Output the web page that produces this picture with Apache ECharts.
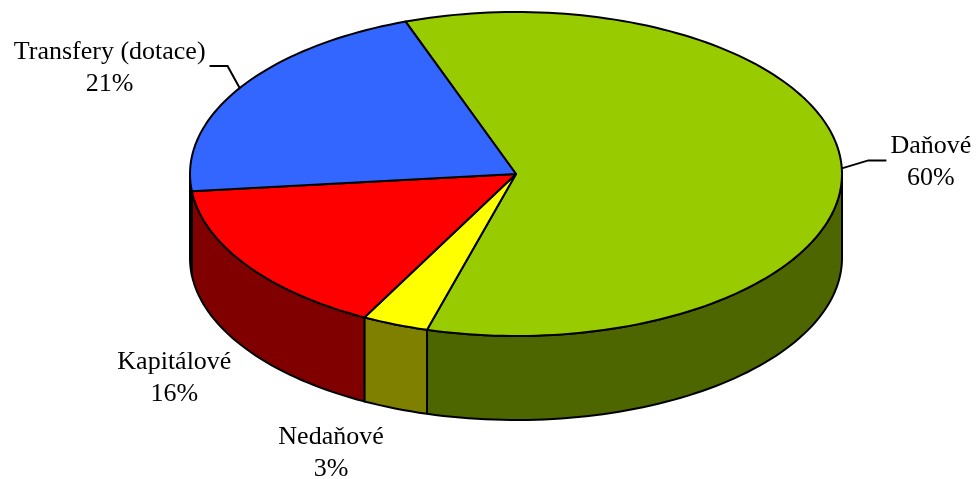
<!DOCTYPE html>
<html>
<head>
<meta charset="utf-8">
<script src="https://cdn.jsdelivr.net/npm/echarts@6/dist/echarts.min.js"></script>
<style>
  html, body { margin: 0; padding: 0; background: #fff; }
  #chart { width: 976px; height: 479px; }
</style>
</head>
<body>
<div id="chart"></div>
<script>
const categories = ['Daňové', 'Nedaňové', 'Kapitálové', 'Transfery (dotace)'];
const shares = [59.9, 3.3, 15.6, 21.2];
const topColors = ['#99CC00', '#FFFF00', '#FF0000', '#3366FF'];
const sideColors = ['#4D6600', '#808000', '#800000', '#1A3380'];
// label centre relative to the rim point at the slice's middle angle
const labelShift = [[89, -6], [-64, 129], [-72, 113], [-130, -20]];
const withLeader = [true, false, false, true];

const START = 109.8; // first edge, degrees ccw from east, slices go clockwise
const CX = 516, CY = 174, RX = 326, RY = 162, DEPTH = 84;
const FONT_SIZE = 26, LINE_H = 32, FONT = 'Liberation Serif';

const total = shares.reduce((a, b) => a + b, 0);
const edges = [];
let acc = START;
shares.forEach(v => {
  const a0 = acc;
  acc -= v / total * 360;
  edges.push([a0, acc]);
});

const ctx = document.createElement('canvas').getContext('2d');
ctx.font = FONT_SIZE + 'px "' + FONT + '"';

function pt(deg, dy) {
  const r = deg * Math.PI / 180;
  return [CX + RX * Math.cos(r), CY - RY * Math.sin(r) + (dy || 0)];
}

function arc(a0, a1, dy) {
  const n = Math.max(2, Math.ceil(Math.abs(a0 - a1) / 1.5));
  const out = [];
  for (let i = 0; i <= n; i++) out.push(pt(a0 + (a1 - a0) * i / n, dy));
  return out;
}

// parts of [a1, a0] that face the viewer (lower half of the ellipse)
function frontParts(a0, a1) {
  const parts = [];
  for (let k = -2; k <= 1; k++) {
    const lo = Math.max(a1, -180 + 360 * k);
    const hi = Math.min(a0, 360 * k);
    if (hi - lo > 0.01) parts.push([hi, lo]);
  }
  return parts;
}

function renderItem(params, api) {
  const i = params.dataIndex;
  const [a0, a1] = edges[i];
  const line = { stroke: '#000', lineWidth: 2, lineJoin: 'round' };
  const children = [];

  frontParts(a0, a1).forEach(([hi, lo]) => {
    children.push({
      type: 'polygon', z2: 1,
      shape: { points: arc(hi, lo, 0).concat(arc(lo, hi, DEPTH)) },
      style: Object.assign({ fill: sideColors[i] }, line)
    });
  });

  children.push({
    type: 'polygon', z2: 2,
    shape: { points: [[CX, CY]].concat(arc(a0, a1, 0)) },
    style: Object.assign({ fill: topColors[i] }, line)
  });

  const mid = (a0 + a1) / 2;
  const rim = pt(mid, 0);
  const lx = rim[0] + labelShift[i][0];
  const ly = rim[1] + labelShift[i][1];
  const pct = Math.round(api.value(1) / total * 100);
  const text = categories[i] + '\n' + pct + '%';

  children.push({
    type: 'text', z2: 3,
    style: {
      text: text, x: lx, y: ly,
      fill: '#000', fontSize: FONT_SIZE, fontFamily: FONT,
      lineHeight: LINE_H, align: 'center', verticalAlign: 'middle'
    }
  });

  if (withLeader[i]) {
    const w = ctx.measureText(categories[i]).width;
    const side = lx > rim[0] ? -1 : 1;
    const end = [lx + side * (w / 2 + 4), ly - 2];
    const elbow = [end[0] + side * 18, end[1]];
    children.push({
      type: 'polyline', z2: 3,
      shape: { points: [rim, elbow, end] },
      style: { stroke: '#000', lineWidth: 2, fill: null }
    });
  }

  return { type: 'group', children: children };
}

const chart = echarts.init(document.getElementById('chart'));
chart.setOption({
  backgroundColor: '#fff',
  animation: false,
  series: [{
    type: 'custom',
    coordinateSystem: 'none',
    renderItem: renderItem,
    data: shares.map((v, i) => [i, v])
  }]
});
</script>
</body>
</html>
